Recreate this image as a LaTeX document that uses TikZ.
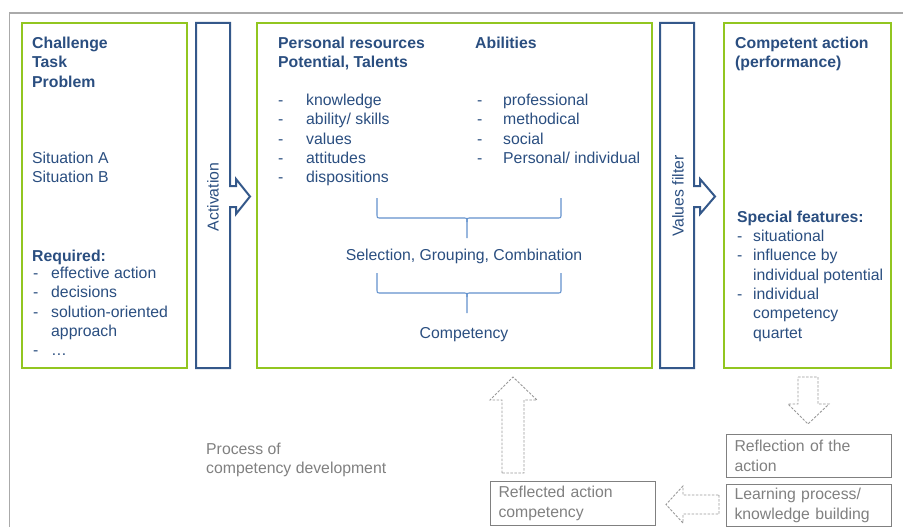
\documentclass[tikz,border=0pt]{standalone}
\usepackage{fontspec}
\setmainfont{Liberation Sans}
\usetikzlibrary{calc}

\definecolor{navytext}{RGB}{42,78,128}
\definecolor{boxblue}{RGB}{52,88,138}
\definecolor{limegreen}{RGB}{146,198,32}
\definecolor{braceblue}{RGB}{98,145,205}
\definecolor{framegray}{RGB}{170,170,170}
\definecolor{textgray}{RGB}{128,128,128}

\tikzset{
  lbl/.style={anchor=base west, inner sep=0pt, text=navytext, font=\fontsize{15.8}{19.3}\selectfont},
  hd/.style={lbl, font=\fontsize{15.8}{19.3}\selectfont\bfseries},
  greenbox/.style={draw=limegreen, line width=2pt},
  bluebox/.style={draw=boxblue, line width=2pt, line join=miter},
  brace/.style={draw=braceblue, line width=1.1pt},
  grayarrow/.style={draw=textgray!80, dash pattern=on 2.5pt off 1.5pt, line width=0.9pt, line join=miter},
  graybox/.style={draw=textgray, line width=1pt, text=textgray, font=\fontsize{15.8}{19.3}\selectfont,
    align=left, text width=149pt, inner xsep=8pt, inner ysep=0pt, anchor=north west}
}

\begin{document}
\begin{tikzpicture}[x=1pt,y=-1pt]
\useasboundingbox (0,0) rectangle (903,527);
% frame
\draw[framegray, line width=1.5pt] (9.5,530) -- (9.5,13) -- (906,13);

% boxes
\draw[greenbox] (22,23) rectangle (187,368);
\draw[greenbox] (257,23) rectangle (652,368);
\draw[greenbox] (724,23) rectangle (891,368);
\draw[bluebox] (196,23) -- (230,23) -- (230,186) -- (236,186) -- (236,179) -- (250,196.5)
  -- (236,214) -- (236,207) -- (230,207) -- (230,368) -- (196,368) -- cycle;
\draw[bluebox] (660,23) -- (694,23) -- (694,186) -- (700,186) -- (700,179) -- (715,196.5)
  -- (700,214) -- (700,207) -- (694,207) -- (694,368) -- (660,368) -- cycle;
\node[text=navytext, font=\fontsize{15.8}{19.3}\selectfont, rotate=90] (activation) at (213,197) {Activation};
\node[text=navytext, font=\fontsize{15.8}{19.3}\selectfont, rotate=90] (valuesfilter) at (678,196) {Values filter};

% left box
\node[hd] (challenge) at (32,48.5) {\begin{tabular}[t]{@{}l@{}}Challenge\\Task\\Problem\end{tabular}};
\node[lbl] (situation) at (32,163.5) {\begin{tabular}[t]{@{}l@{}}Situation A\\Situation B\end{tabular}};
\node[hd] (required) at (32,261.5) {Required:};
\node[lbl] (reqlist) at (33,278.5) {\begin{tabular}[t]{@{}p{18pt}@{}l@{}}
  - & effective action\\ - & decisions\\ - & solution-oriented\\ & approach\\ - & \dots\end{tabular}};

% middle box
\node[hd] (resources) at (278,48.5) {\begin{tabular}[t]{@{}l@{}}Personal resources\\Potential, Talents\end{tabular}};
\node[hd] (abilities) at (475,48.5) {Abilities};
\node[lbl] (reslist) at (278,105.5) {\begin{tabular}[t]{@{}p{28pt}@{}l@{}}
  - & knowledge\\ - & ability/ skills\\ - & values\\ - & attitudes\\ - & dispositions\end{tabular}};
\node[lbl] (ablist) at (477,105.5) {\begin{tabular}[t]{@{}p{26pt}@{}l@{}}
  - & professional\\ - & methodical\\ - & social\\ - & Personal/ individual\end{tabular}};
\draw[brace] (377,198) -- (377,214) .. controls (377,218) .. (381,218) -- (463,218)
  .. controls (467,218) .. (467,222) -- (467,238);
\draw[brace] (561,198) -- (561,214) .. controls (561,218) .. (557,218) -- (471,218)
  .. controls (467,218) .. (467,222);
\node[lbl, anchor=base] (selection) at (464,260.5) {Selection, Grouping, Combination};
\draw[brace] (377,273) -- (377,289) .. controls (377,293) .. (381,293) -- (463,293)
  .. controls (467,293) .. (467,297) -- (467,313);
\draw[brace] (561,273) -- (561,289) .. controls (561,293) .. (557,293) -- (471,293)
  .. controls (467,293) .. (467,297);
\node[lbl, anchor=base] (competency) at (464,338.5) {Competency};

% right box
\node[hd] (action) at (735,48.5) {\begin{tabular}[t]{@{}l@{}}Competent action\\(performance)\end{tabular}};
\node[hd] (special) at (737,222.5) {Special features:};
\node[lbl] (speclist) at (737,241.5) {\begin{tabular}[t]{@{}p{16pt}@{}l@{}}
  - & situational\\ - & influence by\\ & individual potential\\ - & individual\\ & competency\\ & quartet\end{tabular}};

% development cycle
\node[lbl, text=textgray] (process) at (206,454.5) {\begin{tabular}[t]{@{}l@{}}Process of\\competency development\end{tabular}};
\node[graybox, minimum height=43pt] (reflection) at (726,434) {Reflection of the\\action};
\node[graybox, minimum height=42pt] (learning) at (726,484) {Learning process/\\knowledge building};
\node[graybox, minimum height=44pt] (reflected) at (490,481) {Reflected action\\competency};
\draw[grayarrow] (798,377) -- (818,377) -- (818,404) -- (829,404) -- (808,424) -- (788,404)
  -- (798,404) -- cycle;
\draw[grayarrow] (719,495) -- (719,514) -- (683,514) -- (683,523) -- (666,504.5) -- (683,486)
  -- (683,495) -- cycle;
\draw[grayarrow] (502,473) -- (502,400) -- (490,400) -- (513,377) -- (537,400) -- (524,400)
  -- (524,473) -- cycle;
\end{tikzpicture}
\end{document}
